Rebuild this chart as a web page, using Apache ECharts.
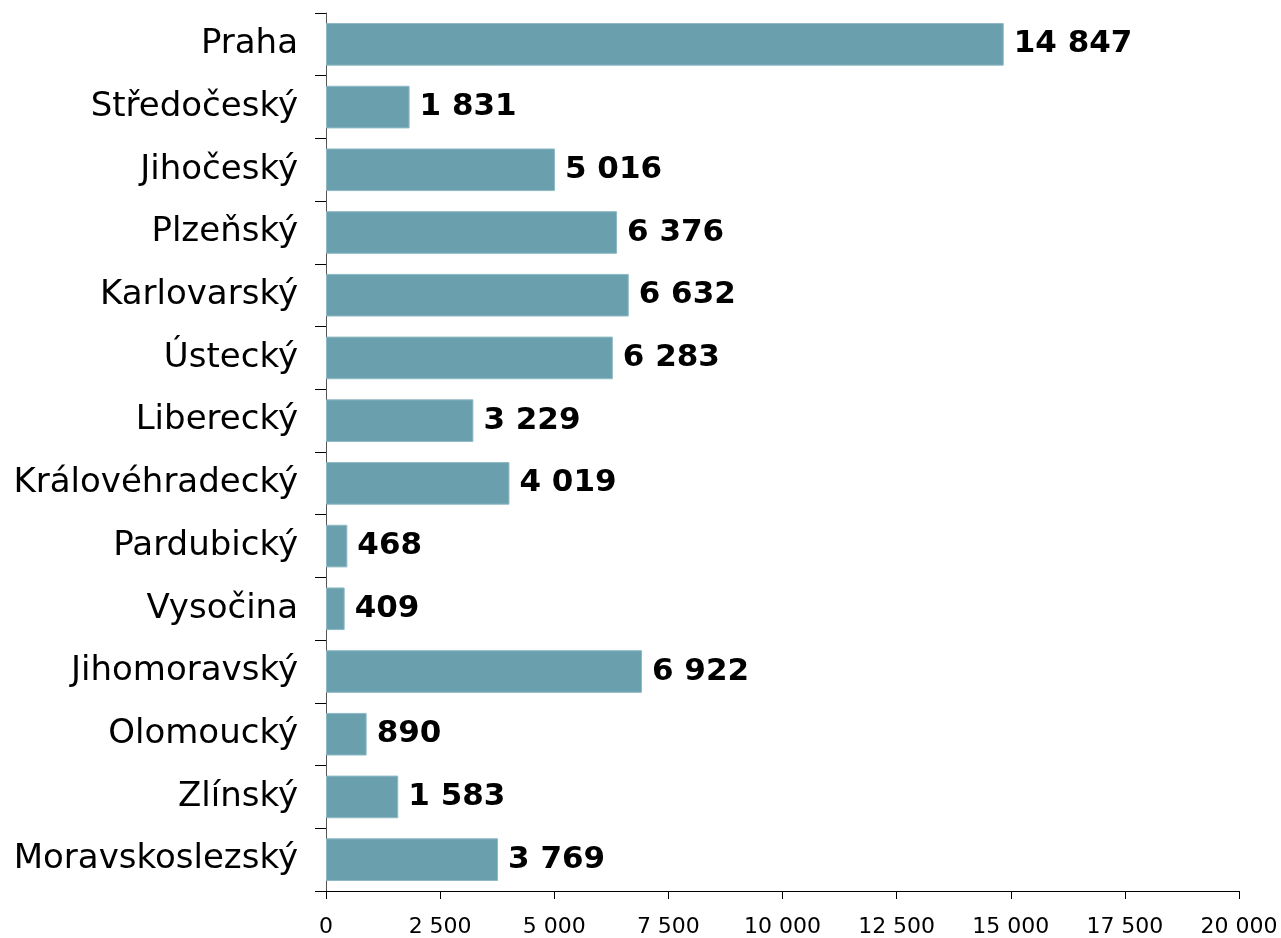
<!DOCTYPE html>
<html>
<head>
<meta charset="utf-8">
<script src="https://cdn.jsdelivr.net/npm/echarts@6/dist/echarts.min.js"></script>
<style>
  html, body { margin: 0; padding: 0; background: #fff; }
  #main { width: 1281px; height: 938px; }
</style>
</head>
<body>
<div id="main"></div>
<script>
var regions = ['Praha', 'Středočeský', 'Jihočeský', 'Plzeňský', 'Karlovarský', 'Ústecký', 'Liberecký',
  'Královéhradecký', 'Pardubický', 'Vysočina', 'Jihomoravský', 'Olomoucký', 'Zlínský', 'Moravskoslezský'];
var values = [14847, 1831, 5016, 6376, 6632, 6283, 3229, 4019, 468, 409, 6922, 890, 1583, 3769];

// tisíce oddělené mezerou
function fmt(v) {
  return String(v).replace(/\B(?=(\d{3})+(?!\d))/g, ' ');
}

var myChart = echarts.init(document.getElementById('main'));

var option = {
  animation: false,
  grid: { left: 326, right: 42, top: 13, bottom: 46 },
  xAxis: {
    type: 'value',
    min: 0,
    max: 20000,
    interval: 2500,
    axisLine: { show: true, lineStyle: { color: '#000', width: 1 } },
    axisTick: { show: true, length: 8, lineStyle: { color: '#000' } },
    splitLine: { show: false },
    axisLabel: {
      color: '#000',
      fontFamily: 'DejaVu Sans',
      fontSize: 22,
      margin: 25,
      formatter: fmt
    }
  },
  yAxis: {
    type: 'category',
    inverse: true,
    data: regions,
    axisLine: { show: true, lineStyle: { color: '#555', width: 1 } },
    axisTick: { show: true, length: 11, lineStyle: { color: '#000' } },
    axisLabel: {
      color: '#000',
      fontFamily: 'DejaVu Sans',
      fontSize: 34,
      margin: 28,
      padding: [5, 0, 0, 0]
    }
  },
  series: [{
    type: 'bar',
    data: values,
    barWidth: '68%',
    itemStyle: { color: '#6aa0ad', borderColor: '#8fbac5', borderWidth: 1 },
    label: {
      show: true,
      position: 'right',
      distance: 10,
      color: '#000',
      fontFamily: 'DejaVu Sans',
      fontWeight: 'bold',
      fontSize: 31,
      padding: [5, 0, 0, 0],
      formatter: function (p) { return fmt(p.value); }
    }
  }]
};

myChart.setOption(option);
</script>
</body>
</html>
